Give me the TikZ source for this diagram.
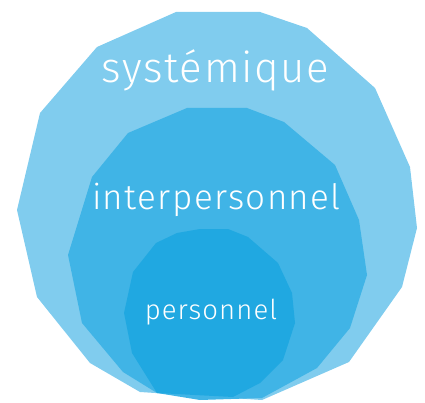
\documentclass[tikz,border=0pt]{standalone}
\usepackage{fontspec}
\setmainfont{Fira Sans}[UprightFont = * Light, LetterSpace = 4]
\definecolor{systemblue}{RGB}{128,204,238}
\definecolor{interblue}{RGB}{64,180,230}
\definecolor{persblue}{RGB}{32,168,225}
\begin{document}
\begin{tikzpicture}[x=1pt, y=-1pt,
                    layer/.style = {fill = #1},
                    word/.style  = {text = white, inner sep = 0pt, anchor = base,
                                    font = \fontsize{#1}{#1}\selectfont}
                   ]
   \useasboundingbox (0,0) rectangle (425,403);
   % outer ring
   \fill[layer = systemblue] (176,12) -- (260,12) -- (307,28) -- (375,88) -- (410,167)
        -- (417,228) -- (402,287) -- (349,362) -- (262,400) -- (140,392) -- (90,363)
        -- (37,297) -- (17,210) -- (40,113) -- (97,47) -- cycle;
   % middle ring
   \fill[layer = interblue] (187,108) -- (247,108) -- (284,122) -- (335,165) -- (359,220)
        -- (367,275) -- (350,328) -- (317,368) -- (262,398) -- (200,400) -- (157,393)
        -- (123,372) -- (82,323) -- (68,255) -- (92,177) -- (128,133) -- cycle;
   % inner ring
   \fill[layer = persblue] (200,229) -- (228,229) -- (248,237) -- (278,263) -- (292,293)
        -- (295,323) -- (283,360) -- (260,383) -- (233,397) -- (157,393) -- (132,353)
        -- (124,313) -- (133,272) -- (156,243) -- (177,233) -- cycle;

   \node[word = 42]   (sys)   at (215.5,83) {systémique};
   \node[word = 35]   (inter) at (216.5,210) {interpersonnel};
   \node[word = 27.5] (pers)  at (211,319)  {personnel};
\end{tikzpicture}
\end{document}
